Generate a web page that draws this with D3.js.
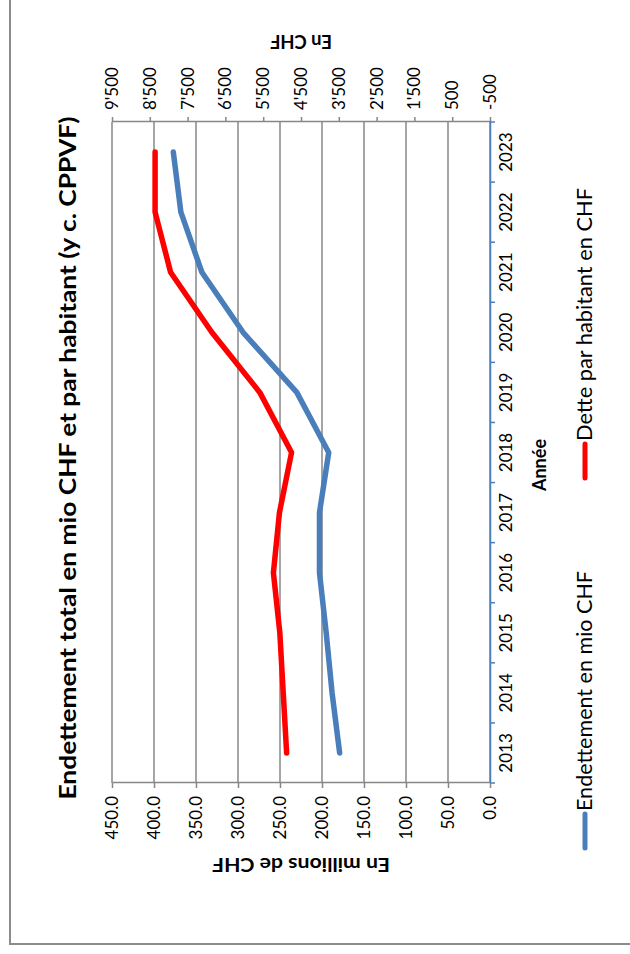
<!DOCTYPE html>
<html>
<head>
<meta charset="utf-8">
<script src="https://cdn.jsdelivr.net/npm/d3@7"></script>
<style>
  body { margin: 0; background: #fff; }
  svg { display: block; }
  text { font-family: Lato, "Open Sans", sans-serif; fill: #000; }
</style>
</head>
<body>
<svg id="chart" width="630" height="954"></svg>
<script>
// Yearly values
const years = ["2013", "2014", "2015", "2016", "2017", "2018", "2019", "2020", "2021", "2022", "2023"];
const debtTotal = [179, 188, 195, 203, 203, 192, 230, 294, 343, 368, 377];          // mio CHF
const debtPerCapita = [4880, 4970, 5060, 5230, 5070, 4750, 5590, 6860, 7950, 8360, 8360]; // CHF
const leftTicks = [0, 50, 100, 150, 200, 250, 300, 350, 400, 450];
const rightTicks = [-500, 500, 1500, 2500, 3500, 4500, 5500, 6500, 7500, 8500, 9500];

const seriesNames = ["Endettement en mio CHF", "Dette par habitant en CHF"];
const seriesColors = ["#4a7ebb", "#ff0000"];

const svg = d3.select("#chart");

// The chart is laid out landscape (954 x 630) and turned a quarter turn.
const g = svg.append("g").attr("transform", "translate(0,954) rotate(-90)");

// Frame
g.append("rect")
  .attr("x", 10).attr("y", 10)
  .attr("width", 970).attr("height", 650)
  .attr("fill", "none").attr("stroke", "#8c8c8c").attr("stroke-width", 2);

const plot = { left: 171, right: 832, top: 112, bottom: 490 };

const x = d3.scaleBand().domain(years).range([plot.left, plot.right]);
const yL = d3.scaleLinear().domain([0, 450]).range([plot.bottom, plot.top]);
const yR = d3.scaleLinear().domain([-500, 9500]).range([plot.bottom, plot.top]);

const chf = d3.formatLocale({ decimal: ".", thousands: "'", grouping: [3], currency: ["", ""], minus: "-" }).format(",");

// Gridlines
g.append("g").selectAll("line").data(leftTicks).join("line")
  .attr("x1", plot.left).attr("x2", plot.right)
  .attr("y1", d => yL(d)).attr("y2", d => yL(d))
  .attr("stroke", "#878787").attr("stroke-width", 1.5);

// Left axis (mio CHF)
const axL = g.append("g").attr("transform", `translate(${plot.left},0)`)
  .call(d3.axisLeft(yL).tickValues(leftTicks).tickFormat(d3.format(".1f")).tickSize(5).tickSizeOuter(0).tickPadding(8));
axL.selectAll("path, line").attr("stroke", "#878787").attr("stroke-width", 1.5);
axL.selectAll("text").style("font-size", "17px").style("font-family", "Lato, sans-serif");

// Right axis (CHF per inhabitant)
const axR = g.append("g").attr("transform", `translate(${plot.right},0)`)
  .call(d3.axisRight(yR).tickValues(rightTicks).tickFormat(chf).tickSize(5).tickSizeOuter(0).tickPadding(7));
axR.selectAll("path, line").attr("stroke", "#878787").attr("stroke-width", 1.5);
axR.selectAll("text").style("font-size", "17px").style("font-family", "Lato, sans-serif");

// Category axis
const axX = g.append("g").attr("transform", `translate(0,${plot.bottom})`)
  .call(d3.axisBottom(x).tickSize(0).tickPadding(10));
axX.select("path").attr("stroke", "#4a7ebb").attr("stroke-width", 1.5);
axX.selectAll("text").style("font-size", "17px").style("font-family", "Lato, sans-serif");
const bounds = years.map(d => x(d)).concat([x.range()[1]]);
g.append("g").selectAll("line").data(bounds).join("line")
  .attr("x1", d => d).attr("x2", d => d)
  .attr("y1", plot.bottom).attr("y2", plot.bottom + 5)
  .attr("stroke", "#4a7ebb").attr("stroke-width", 1.5);

// Series lines
const cx = d => x(d) + x.bandwidth() / 2;
const lineL = d3.line().x((d, i) => cx(years[i])).y(d => yL(d));
const lineR = d3.line().x((d, i) => cx(years[i])).y(d => yR(d));

g.append("path").datum(debtTotal).attr("d", lineL)
  .attr("fill", "none").attr("stroke", seriesColors[0]).attr("stroke-width", 5.5)
  .attr("stroke-linejoin", "round").attr("stroke-linecap", "round");
g.append("path").datum(debtPerCapita).attr("d", lineR)
  .attr("fill", "none").attr("stroke", seriesColors[1]).attr("stroke-width", 5.5)
  .attr("stroke-linejoin", "round").attr("stroke-linecap", "round");

// Title
g.append("text")
  .attr("x", 496).attr("y", 76)
  .attr("text-anchor", "middle")
  .attr("textLength", 683).attr("lengthAdjust", "spacingAndGlyphs")
  .style("font-size", "23px").style("font-weight", "bold")
  .text("Endettement total en mio CHF et par habitant (y c. CPPVF)");

// Axis titles
g.append("text")
  .attr("transform", `translate(89,${(plot.top + plot.bottom) / 2}) rotate(-90)`)
  .attr("text-anchor", "middle").attr("dy", "0.35em")
  .attr("textLength", 178).attr("lengthAdjust", "spacingAndGlyphs")
  .style("font-size", "19px").style("font-weight", "bold")
  .text("En millions de CHF");
g.append("text")
  .attr("transform", `translate(912,${(plot.top + plot.bottom) / 2}) rotate(-90)`)
  .attr("text-anchor", "middle").attr("dy", "0.35em")
  .attr("textLength", 62).attr("lengthAdjust", "spacingAndGlyphs")
  .style("font-size", "19px").style("font-weight", "bold")
  .text("En CHF");
g.append("text")
  .attr("x", 489).attr("y", 546)
  .attr("text-anchor", "middle")
  .style("font-size", "18px").style("font-weight", "bold")
  .text("Année");

// Legend
const legendX = [106, 476];
const legendLen = [240, 253];
const lg = g.append("g").selectAll("g").data(seriesNames).join("g")
  .attr("transform", (d, i) => `translate(${legendX[i]},585)`);
lg.append("line")
  .attr("x1", 0).attr("x2", 34).attr("y1", 0).attr("y2", 0)
  .attr("stroke", (d, i) => seriesColors[i]).attr("stroke-width", 5)
  .attr("stroke-linecap", "round");
lg.append("text")
  .attr("x", 37).attr("dy", "0.35em")
  .attr("textLength", (d, i) => legendLen[i]).attr("lengthAdjust", "spacingAndGlyphs")
  .style("font-size", "21px")
  .text(d => d);
</script>
</body>
</html>
